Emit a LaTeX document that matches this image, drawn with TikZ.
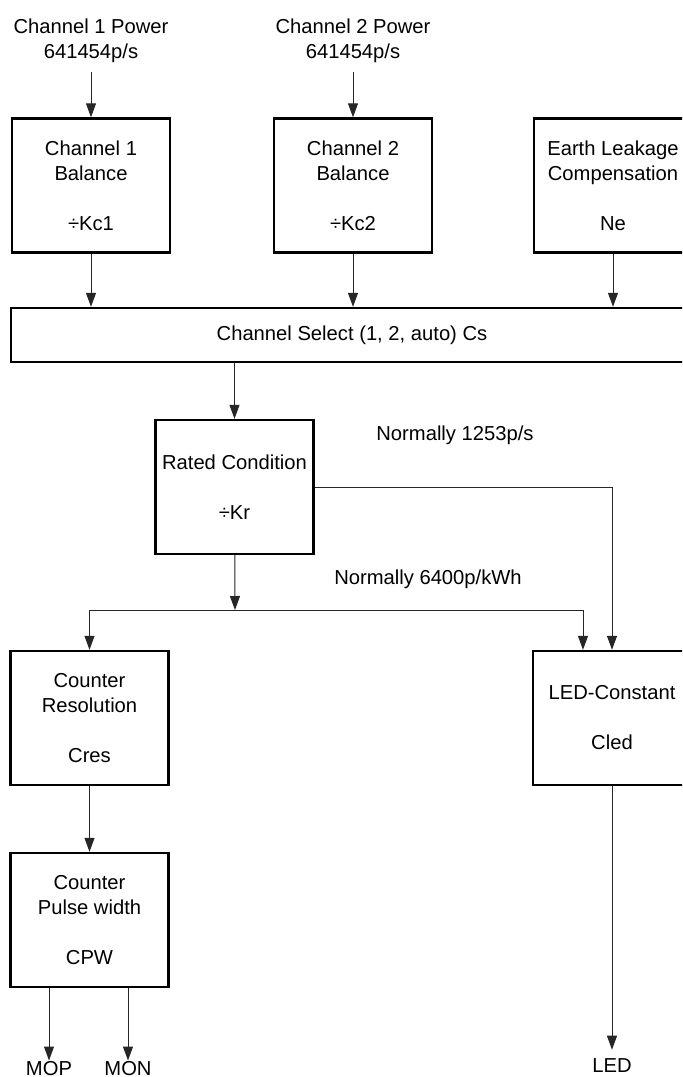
\documentclass[tikz,border=0pt]{standalone}
\usepackage{fontspec}
\setmainfont{Liberation Sans}
\usetikzlibrary{arrows.meta}

\begin{document}
\begin{tikzpicture}[x=0.5pt, y=-0.5pt,
    font=\fontsize{10.1}{12.5}\selectfont,
    block/.style={draw, line width=1.2pt, minimum width=79pt, minimum height=67pt, align=center, inner sep=0pt},
    txt/.style={align=center, inner sep=0pt},
    flow/.style={-{Triangle[length=7pt,width=5pt]}, line width=0.5pt, black!85}]
    \useasboundingbox (0,0) rectangle (682,1077);
    \clip (0,0) rectangle (682,1077);

    % Inputs
    \node[txt] (pow1) at (91,41) {Channel 1 Power\\641454p/s};
    \node[txt] (pow2) at (353,41) {Channel 2 Power\\641454p/s};

    % Balance and compensation
    \node[block] (bal1) at (91,185.5) {Channel 1\\Balance\\[12.5pt]÷Kc1};
    \node[block] (bal2) at (353,185.5) {Channel 2\\Balance\\[12.5pt]÷Kc2};
    \node[block] (earth) at (613,185.5) {Earth Leakage\\Compensation\\[12.5pt]Ne};
    \node[block, minimum width=341pt, minimum height=27pt] (chsel) at (352,335) {Channel Select (1, 2, auto) Cs};

    % Rated condition
    \node[block] (rated) at (234.5,487) {Rated Condition\\[12.5pt]÷Kr};
    \node[txt] (rate1) at (455,435) {Normally 1253p/s};
    \node[txt] (rate2) at (428,579) {Normally 6400p/kWh};
    \coordinate (split) at (235,610);

    % Outputs
    \node[block] (cres) at (89.5,718) {Counter\\Resolution\\[12.5pt]Cres};
    \node[block] (cled) at (612,718) {LED-Constant\\[12.5pt]Cled};
    \node[block] (cpw) at (89.5,920) {Counter\\Pulse width\\[12.5pt]CPW};
    \node[txt, anchor=base] (mop) at (49,1075) {MOP};
    \node[txt, anchor=base] (mon) at (128,1075) {MON};
    \node[txt, anchor=base] (led) at (612,1072) {LED};

    % Connectors
    \draw[flow, shorten <=4.5pt] (pow1) -- (bal1);
    \draw[flow, shorten <=4.5pt] (pow2) -- (bal2);
    \foreach \n in {bal1,bal2,earth}
        \draw[flow] (\n) -- (\n |- chsel.north);
    \draw[flow] (rated.north |- chsel.south) -- (rated);
    \draw[flow] (rated.east) -| (cled);
    \draw[flow] (rated) -- (split);
    \draw[flow] (split) -| (cres);
    \draw[flow] (split) -| ([xshift=-14.5pt]cled.north);
    \draw[flow] (cres) -- (cpw);
    \draw[flow] (cpw.south -| mop) -- (mop);
    \draw[flow] (cpw.south -| mon) -- (mon);
    \draw[flow, shorten >=4pt] (cled) -- (led);
\end{tikzpicture}
\end{document}
